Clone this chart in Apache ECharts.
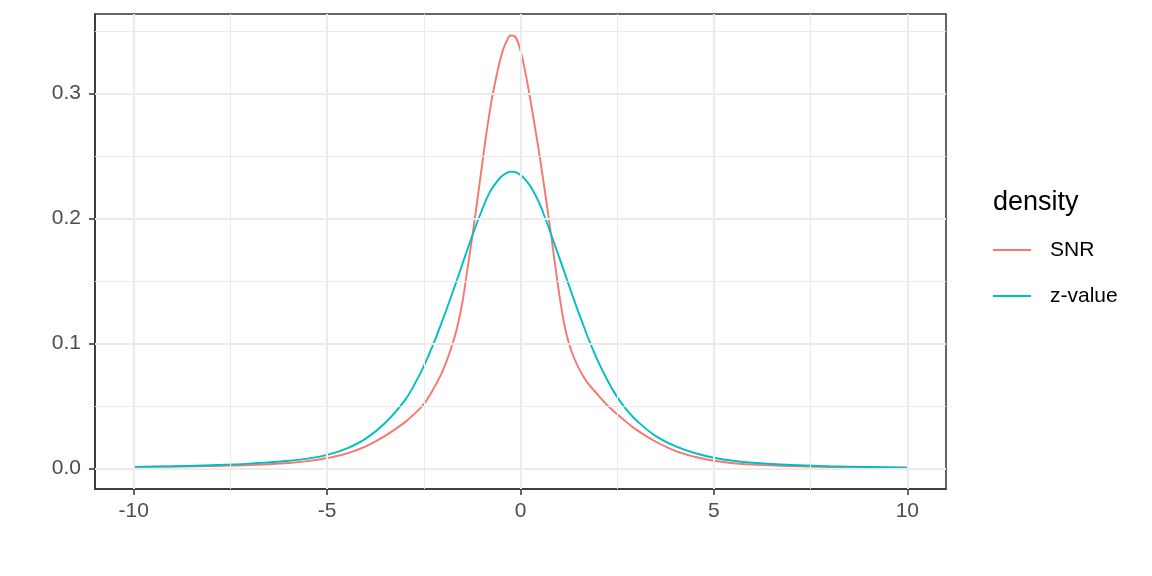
<!DOCTYPE html>
<html>
<head>
<meta charset="utf-8">
<script src="https://cdn.jsdelivr.net/npm/echarts@6.0.0/dist/echarts.min.js"></script>
<style>
  html, body { margin: 0; padding: 0; background: #fff; }
  #chart { width: 1152px; height: 576px; }
</style>
</head>
<body>
<div id="chart"></div>
<script>
const xs = [-10, -9, -8, -7, -6, -5.5, -5, -4.5, -4, -3.5, -3, -2.75, -2.5, -2.25, -2, -1.75, -1.625, -1.5, -1.375, -1.25,
  -1.125, -1, -0.875, -0.75, -0.625, -0.5, -0.375, -0.25, -0.125, 0, 0.125, 0.25, 0.375, 0.5, 0.625, 0.75, 0.875, 1,
  1.125, 1.25, 1.375, 1.5, 1.625, 1.75, 2, 2.25, 2.5, 2.75, 3, 3.5, 4, 4.5, 5, 5.5, 6, 7, 8, 9, 10]

const snr = [0.0014, 0.0017, 0.0021, 0.0028, 0.0045, 0.0060, 0.0085, 0.0120, 0.0178, 0.0262, 0.0368, 0.0436, 0.0515, 0.0638, 0.0790, 0.1005, 0.1145, 0.1335, 0.1590, 0.1850,
  0.2125, 0.2415, 0.2695, 0.2940, 0.3135, 0.3300, 0.3410, 0.3465, 0.3450, 0.3345, 0.3170, 0.2960, 0.2730, 0.2490, 0.2230, 0.1960, 0.1675, 0.1400,
  0.1165, 0.1005, 0.0893, 0.0808, 0.0738, 0.0680, 0.0590, 0.0505, 0.0435, 0.0370, 0.0310, 0.0215, 0.0142, 0.0095, 0.0063, 0.0043, 0.0032, 0.0020, 0.0013, 0.0010, 0.0008]

const zval = [0.0014, 0.0019, 0.0027, 0.0040, 0.0063, 0.0080, 0.0110, 0.0160, 0.0240, 0.0365, 0.0542, 0.0668, 0.0820, 0.0998, 0.1200, 0.1415, 0.1525, 0.1638, 0.1750, 0.1860,
  0.1965, 0.2065, 0.2160, 0.2235, 0.2290, 0.2335, 0.2362, 0.2376, 0.2371, 0.2350, 0.2312, 0.2262, 0.2195, 0.2115, 0.2015, 0.1910, 0.1800, 0.1692,
  0.1580, 0.1468, 0.1358, 0.1250, 0.1147, 0.1045, 0.0862, 0.0705, 0.0572, 0.0468, 0.0385, 0.0260, 0.0180, 0.0125, 0.0087, 0.0063, 0.0047, 0.0029, 0.0019, 0.0013, 0.0008]

const seriesNames = ['SNR', 'z-value']
const xTicks = [-10, -5, 0, 5, 10]
const xMinor = [-7.5, -2.5, 2.5, 7.5]
const yTicks = [0, 0.1, 0.2, 0.3]
const yMinor = [0.05, 0.15, 0.25, 0.35]

const colors = ['#F8766D', '#00BFC4']
const font = '"Liberation Sans", Arial, sans-serif'

const pairs = (ys) => xs.map((x, i) => [x, ys[i]])

const gridLines = []
xTicks.forEach(v => gridLines.push({ xAxis: v, lineStyle: { width: 2 } }))
xMinor.forEach(v => gridLines.push({ xAxis: v, lineStyle: { width: 1 } }))
yTicks.forEach(v => gridLines.push({ yAxis: v, lineStyle: { width: 2 } }))
yMinor.forEach(v => gridLines.push({ yAxis: v, lineStyle: { width: 1 } }))

const axisDark = { color: '#333', width: 1.5 }

const chart = echarts.init(document.getElementById('chart'))
chart.setOption({
  animation: false,
  backgroundColor: '#fff',
  title: {
    text: 'density',
    left: 988,
    top: 184,
    textStyle: { fontFamily: font, fontSize: 27, fontWeight: 'normal', color: '#000' }
  },
  legend: {
    data: seriesNames,
    orient: 'vertical',
    left: 993,
    top: 238,
    padding: 0,
    icon: 'rect',
    itemWidth: 38,
    itemHeight: 2,
    itemGap: 22,
    textStyle: { fontFamily: font, fontSize: 21, color: '#000', lineHeight: 24, padding: [0, 0, 0, 14] }
  },
  grid: {
    left: 95,
    right: 206,
    top: 14,
    bottom: 87,
    show: true,
    borderColor: '#333',
    borderWidth: 1.5,
    backgroundColor: 'transparent'
  },
  xAxis: {
    type: 'value',
    min: -11,
    max: 11,
    axisLine: { show: true, onZero: false, lineStyle: axisDark },
    splitLine: { show: false },
    axisTick: { show: true, inside: false, customValues: xTicks, length: 6, lineStyle: axisDark },
    axisLabel: {
      customValues: xTicks,
      margin: 12,
      fontFamily: font,
      fontSize: 21,
      color: '#4D4D4D'
    }
  },
  yAxis: {
    type: 'value',
    min: -0.0163,
    max: 0.3637,
    axisLine: { show: true, onZero: false, lineStyle: axisDark },
    splitLine: { show: false },
    axisTick: { show: true, inside: false, customValues: yTicks, length: 6, lineStyle: axisDark },
    axisLabel: {
      customValues: yTicks,
      margin: 14,
      fontFamily: font,
      fontSize: 21,
      color: '#4D4D4D',
      formatter: (v) => v.toFixed(1)
    }
  },
  series: [
    {
      name: 'grid',
      type: 'line',
      data: [[0, 0]],
      showSymbol: false,
      lineStyle: { opacity: 0 },
      silent: true,
      z: 1,
      markLine: {
        silent: true,
        symbol: ['none', 'none'],
        label: { show: false },
        lineStyle: { color: '#EBEBEB', type: 'solid' },
        emphasis: { disabled: true },
        data: gridLines
      }
    },
    {
      name: seriesNames[0],
      type: 'line',
      data: pairs(snr),
      smooth: 0.4,
      showSymbol: false,
      color: colors[0],
      lineStyle: { width: 1.9 },
      z: 3
    },
    {
      name: seriesNames[1],
      type: 'line',
      data: pairs(zval),
      smooth: 0.4,
      showSymbol: false,
      color: colors[1],
      lineStyle: { width: 1.9 },
      z: 3
    }
  ]
})
</script>
</body>
</html>
